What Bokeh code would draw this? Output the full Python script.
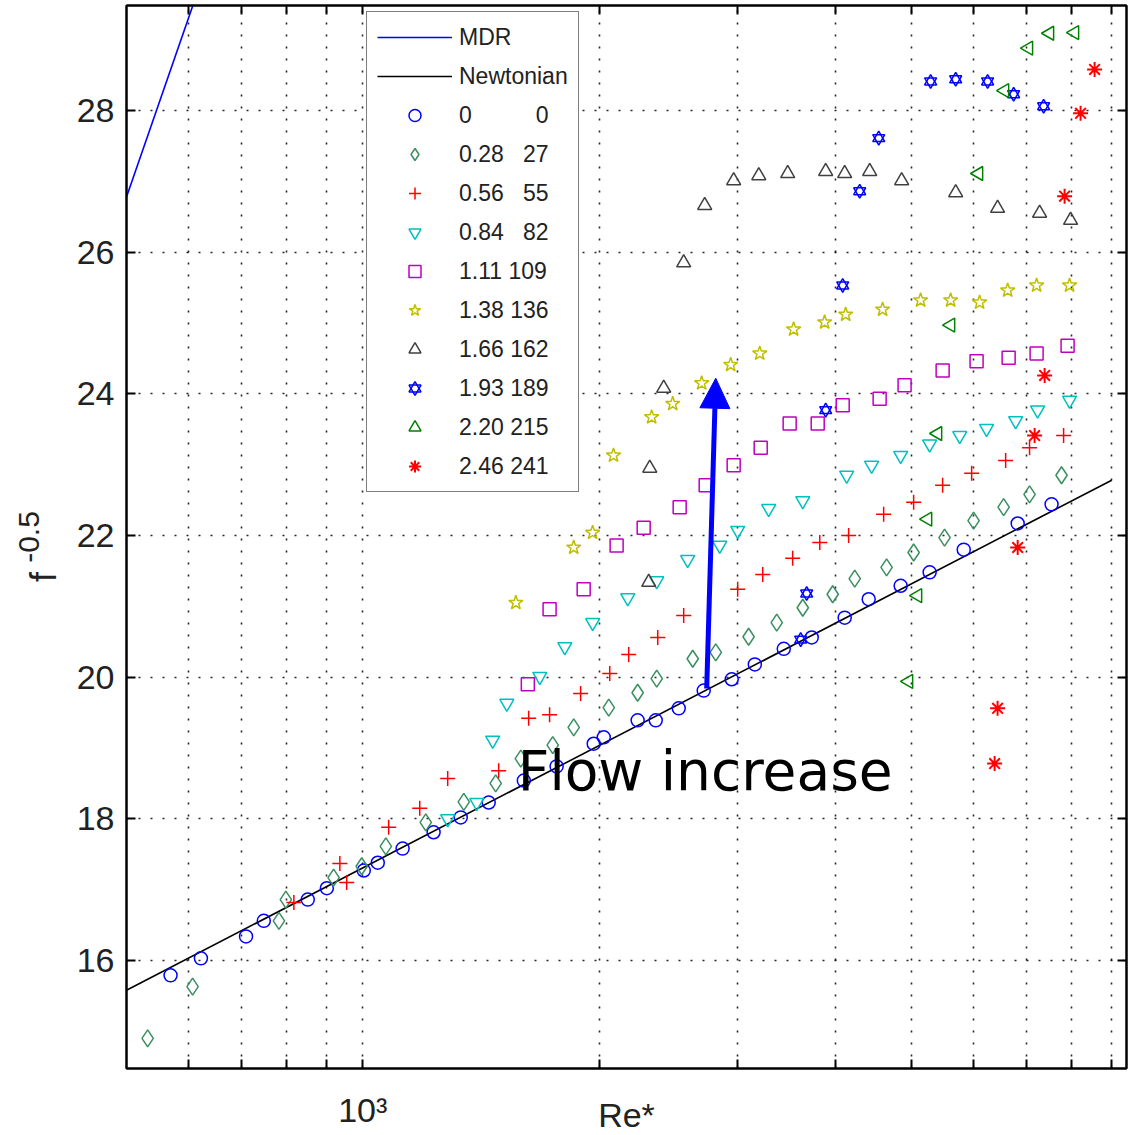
import math
from bokeh.plotting import figure
from bokeh.models import (Range1d, LogAxis, LinearAxis, FixedTicker, Legend, LegendItem,
                          Label, Arrow, NormalHead, CustomJSTickFormatter)
from bokeh.embed import file_html
from bokeh.resources import INLINE

# ---------------- data ----------------
x_ticks = [600, 700, 800, 900, 1000, 2000, 3000, 4000, 5000, 6000, 7000, 8000, 9000]
y_ticks = [16, 18, 20, 22, 24, 26, 28]

mdr_re = [500, 607]
mdr_f = [26.78, 29.47]
newt_re = [500, 9000]
newt_f = [15.58, 22.78]

s0_re = [569, 622, 710, 748, 851, 900, 1003, 1045, 1124, 1231, 1333, 1447, 1604, 1766, 1969, 2028,
         2240, 2362, 2527, 2719, 2952, 3159, 3439, 3733, 4112, 4412, 4846, 5276, 5831, 6831, 7545]
s0_f = [15.79, 16.03, 16.34, 16.56, 16.86, 17.02, 17.27, 17.38, 17.58, 17.81, 18.02, 18.23, 18.54,
        18.74, 19.06, 19.15, 19.39, 19.39, 19.56, 19.81, 19.97, 20.18, 20.40, 20.56, 20.84, 21.10,
        21.29, 21.48, 21.80, 22.17, 22.44]

s1_re = [532, 607, 782, 798, 918, 997, 1070, 1203, 1345, 1477, 1590, 1746, 1857, 2058, 2240, 2369,
         2633, 2817, 3102, 3369, 3636, 3970, 4235, 4650, 5034, 5512, 6002, 6555, 7073, 7769]
s1_f = [14.90, 15.63, 16.56, 16.86, 17.17, 17.33, 17.61, 17.95, 18.24, 18.50, 18.85, 19.04, 19.29,
        19.57, 19.78, 19.98, 20.26, 20.35, 20.57, 20.77, 20.98, 21.17, 21.39, 21.55, 21.76, 21.97,
        22.21, 22.40, 22.58, 22.85]

s2_re = [817, 935, 954, 1079, 1182, 1283, 1490, 1627, 1730, 1895, 2064, 2182, 2376, 2564, 3004,
         3233, 3530, 3822, 4160, 4610, 5034, 5481, 5968, 6594, 7073, 7816]
s2_f = [16.82, 17.37, 17.10, 17.88, 18.15, 18.57, 18.68, 19.42, 19.47, 19.77, 20.05, 20.32, 20.56,
        20.87, 21.24, 21.45, 21.68, 21.90, 22.00, 22.30, 22.47, 22.71, 22.88, 23.06, 23.24, 23.41]

s3_re = [1283, 1397, 1464, 1526, 1681, 1809, 1963, 2176, 2369, 2594, 2850, 3004, 3290, 3636, 4136,
         4450, 4846, 5276, 5763, 6235, 6790, 7242, 7954]
s3_f = [18.00, 18.23, 19.11, 19.63, 20.01, 20.43, 20.77, 21.12, 21.36, 21.66, 21.86, 22.07, 22.38,
        22.49, 22.85, 22.99, 23.13, 23.29, 23.41, 23.51, 23.62, 23.77, 23.91]

s4_re = [1623, 1730, 1912, 2106, 2280, 2534, 2735, 2969, 3214, 3499, 3799, 4088, 4556, 4902, 5481,
         6055, 6652, 7221, 7908]
s4_f = [19.90, 20.96, 21.24, 21.86, 22.11, 22.40, 22.71, 22.99, 23.24, 23.58, 23.58, 23.84, 23.93,
        24.12, 24.33, 24.46, 24.51, 24.57, 24.68]

s5_re = [1567, 1857, 1963, 2087, 2334, 2483, 2703, 2943, 3205, 3540, 3877, 4124, 4596, 5138, 5611,
         6109, 6633, 7221, 7954]
s5_f = [21.05, 21.83, 22.04, 23.13, 23.67, 23.86, 24.15, 24.41, 24.57, 24.91, 25.01, 25.12, 25.19,
        25.32, 25.32, 25.29, 25.46, 25.53, 25.53]

s6_re = [2314, 2321, 2418, 2564, 2727, 2969, 3196, 3479, 3889, 4112, 4425, 4860, 5695, 6440, 7285, 7978]
s6_f = [21.34, 22.95, 24.08, 25.85, 26.66, 27.01, 27.08, 27.11, 27.14, 27.11, 27.14, 27.01, 26.84,
        26.62, 26.55, 26.45]

s7_re = [3614, 3678, 3889, 4088, 4297, 4544, 5291, 5695, 6254, 6750, 7371]
s7_f = [20.53, 21.18, 23.77, 25.53, 26.86, 27.61, 28.41, 28.44, 28.41, 28.23, 28.06]

s8_re = [4960, 5093, 5245, 5401, 5611, 6091, 6574, 7052, 7501, 8072]
s8_f = [19.94, 21.15, 22.23, 23.44, 24.97, 27.11, 28.28, 28.88, 29.09, 29.10]

s9_re = [6384, 6440, 6831, 7179, 7393, 7839, 8215, 8560]
s9_f = [18.78, 19.56, 21.83, 23.41, 24.26, 26.79, 27.96, 28.58]

legend_col1 = ["0", "0.28", "0.56", "0.84", "1.11", "1.38", "1.66", "1.93", "2.20", "2.46"]
legend_col2 = ["0", "27", "55", "82", "109", "136", "162", "189", "215", "241"]

arrow_re = [2743, 2817]
arrow_f = [19.84, 24.22]
note_re = 1576
note_f = 18.68

# ---------------- figure ----------------
FONT = "Liberation Sans"

p = figure(width=1135, height=1135, frame_width=1000, frame_height=1063, x_axis_type="log",
           x_range=Range1d(500, 9400), y_range=Range1d(14.475, 29.482),
           output_backend="svg", toolbar_location=None,
           min_border_left=126, min_border_right=9, min_border_top=5, min_border_bottom=67)
p.background_fill_color = "white"
p.border_fill_color = "white"
p.outline_line_color = "black"
p.outline_line_width = 2

xt = FixedTicker(ticks=x_ticks)
yt = FixedTicker(ticks=y_ticks)

def style_axis(ax, show_labels):
    ax.axis_line_width = 2
    ax.axis_line_color = "black"
    ax.major_tick_line_width = 2
    ax.major_tick_line_color = "black"
    ax.major_tick_in = 9
    ax.major_tick_out = 0
    ax.minor_tick_line_color = None
    if show_labels:
        ax.major_label_text_font = FONT
        ax.major_label_text_font_size = "34px"
        ax.major_label_text_color = "#222222"
    else:
        ax.major_label_text_font_size = "0px"
        ax.major_label_standoff = 0

xa = p.xaxis[0]
xa.ticker = xt
xa.formatter = CustomJSTickFormatter(code="return tick == 1000 ? '10\u00b3' : '';")
style_axis(xa, True)
xa.major_label_standoff = 22
xa.axis_label = "Re*"
xa.axis_label_text_font = FONT
xa.axis_label_text_font_style = "normal"
xa.axis_label_text_font_size = "34px"
xa.axis_label_text_color = "#222222"
xa.axis_label_standoff = -36

ya = p.yaxis[0]
ya.ticker = yt
style_axis(ya, True)
ya.major_label_standoff = 12
ya.axis_label = "f" + "\u2007" * 4
ya.axis_label_text_font = FONT
ya.axis_label_text_font_style = "normal"
ya.axis_label_text_font_size = "36px"
ya.axis_label_text_color = "#222222"
ya.axis_label_standoff = 10

# exponent of the y title, drawn as the title of a bare outer axis
ya2 = LinearAxis(ticker=FixedTicker(ticks=[]), axis_label="-0.5")
ya2.axis_line_color = None
ya2.major_tick_line_color = None
ya2.minor_tick_line_color = None
ya2.major_label_text_font_size = "0px"
ya2.major_label_standoff = 0
ya2.major_tick_out = 0
ya2.axis_label_text_font = FONT
ya2.axis_label_text_font_style = "normal"
ya2.axis_label_text_font_size = "30px"
ya2.axis_label_text_color = "#222222"
ya2.axis_label_standoff = -19
p.add_layout(ya2, "left")

top = LogAxis(ticker=xt, formatter=CustomJSTickFormatter(code="return '';"))
style_axis(top, False)
p.add_layout(top, "above")
right = LinearAxis(ticker=yt, formatter=CustomJSTickFormatter(code="return '';"))
style_axis(right, False)
p.add_layout(right, "right")

for g in (p.xgrid[0], p.ygrid[0]):
    g.grid_line_color = "black"
    g.grid_line_dash = "2 10"
    g.grid_line_width = 1.6
    g.grid_line_alpha = 0.85
p.xgrid[0].ticker = xt
p.ygrid[0].ticker = yt

# ---------------- glyphs ----------------
r_mdr = p.line(mdr_re, mdr_f, line_color="#0000ff", line_width=1.6)
r_new = p.line(newt_re, newt_f, line_color="black", line_width=1.6)

lw = 1.5
r0 = p.scatter(s0_re, s0_f, marker="circle", size=13, fill_color=None, line_color="#0000ff", line_width=lw)
r1 = p.scatter(s1_re, s1_f, marker="diamond", size=17, fill_color=None, line_color="#3a8f60", line_width=lw)
r2 = p.scatter(s2_re, s2_f, marker="cross", size=15, line_color="#ff0000", line_width=lw)
r3 = p.scatter(s3_re, s3_f, marker="inverted_triangle", size=14, fill_color=None, line_color="#00bfbf", line_width=lw)
r4 = p.scatter(s4_re, s4_f, marker="square", size=13, fill_color=None, line_color="#bf00bf", line_width=lw)
r5 = p.scatter(s5_re, s5_f, marker="star", size=15, fill_color=None, line_color="#bfbf00", line_width=lw)
r6 = p.scatter(s6_re, s6_f, marker="triangle", size=14, fill_color=None, line_color="#404040", line_width=lw)
r7a = p.scatter(s7_re, s7_f, marker="triangle", size=12, fill_color=None, line_color="#0000ff", line_width=lw)
r7b = p.scatter(s7_re, s7_f, marker="inverted_triangle", size=12, fill_color=None, line_color="#0000ff", line_width=lw)
r8 = p.scatter(s8_re, s8_f, marker="triangle", angle=math.pi / 2, size=14, fill_color=None, line_color="#008000", line_width=lw)
r9 = p.scatter(s9_re, s9_f, marker="asterisk", size=15, line_color="#ff0000", line_width=2)

# ---------------- legend ----------------
def make_label(a, b):
    pad_a = "" if "." in a else "\u2008\u2007\u2007"
    pad_b = "\u2007" * (3 - len(b))
    return a + pad_a + " " + pad_b + b

series_r = [[r0], [r1], [r2], [r3], [r4], [r5], [r6], [r7a, r7b], [r8], [r9]]
items = [LegendItem(label="MDR", renderers=[r_mdr]), LegendItem(label="Newtonian", renderers=[r_new])]
for a, b, rs in zip(legend_col1, legend_col2, series_r):
    items.append(LegendItem(label=make_label(a, b), renderers=rs))

leg = Legend(items=items, location=(240, 576))
leg.label_text_font = FONT
leg.label_text_font_size = "23px"
leg.label_text_color = "#222222"
leg.label_height = 30
leg.glyph_height = 30
leg.glyph_width = 75
leg.label_standoff = 7
leg.spacing = 9
leg.padding = 10
leg.margin = 0
leg.label_width = 105
leg.border_line_color = "black"
leg.border_line_width = 1.5
leg.background_fill_color = "white"
leg.background_fill_alpha = 1
p.add_layout(leg, "center")

# ---------------- annotations ----------------
p.add_layout(Arrow(end=NormalHead(size=30, fill_color="#0000ff", line_color="#0000ff"),
                   x_start=arrow_re[0], y_start=arrow_f[0], x_end=arrow_re[1], y_end=arrow_f[1],
                   line_color="#0000ff", line_width=5))

p.add_layout(Label(x=note_re, y=note_f, text="Flow increase", text_font="DejaVu Sans",
                   text_font_size="55px", text_color="black", text_baseline="alphabetic",
                   text_align="left"))

open("out.html", "w").write(file_html(p, INLINE))
